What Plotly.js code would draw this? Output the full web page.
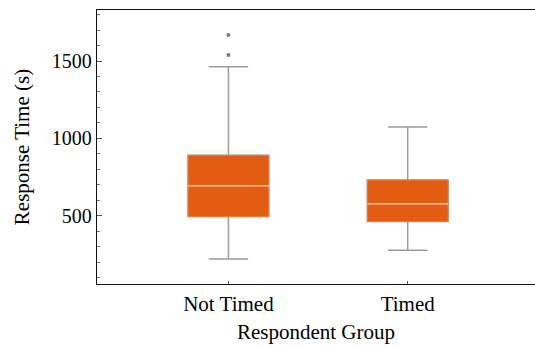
<!DOCTYPE html>
<html>
<head>
<meta charset="utf-8">
<script src="https://cdn.plot.ly/plotly-3.0.1.min.js"></script>
<style>html,body{margin:0;padding:0;background:#fff;}#chart{width:535px;height:347px;}</style>
</head>
<body>
<div id="chart"></div>
<script>
const groups = ["Not Timed", "Timed"];
const lowerWhisker = [220, 276];
const q1Values = [494, 463];
const medianValues = [693, 577];
const q3Values = [890, 730];
const upperWhisker = [1463, 1073];
const outlierGroups = ["Not Timed", "Not Timed"];
const outlierValues = [1539, 1668];

const orange = "#E45C11";
const font = "Liberation Serif, Times New Roman, serif";

const traces = [
  { // whiskers
    type: "box", x: groups, q1: q1Values, median: medianValues, q3: q3Values,
    lowerfence: lowerWhisker, upperfence: upperWhisker,
    width: 0.45, whiskerwidth: 0.49, boxpoints: false,
    fillcolor: orange, line: {color: "#9B9B9B", width: 1.5},
    hoverinfo: "skip", showlegend: false
  },
  { // box body
    type: "box", x: groups, q1: q1Values, median: medianValues, q3: q3Values,
    lowerfence: q1Values, upperfence: q3Values,
    width: 0.45, whiskerwidth: 0, boxpoints: false,
    fillcolor: orange, line: {color: "#EC7A3C", width: 1},
    hoverinfo: "skip", showlegend: false
  },
  { // median line
    type: "box", x: groups, q1: medianValues, median: medianValues, q3: medianValues,
    lowerfence: medianValues, upperfence: medianValues,
    width: 0.45, whiskerwidth: 0, boxpoints: false,
    fillcolor: "rgba(0,0,0,0)", line: {color: "#F6C6A2", width: 1.5},
    hoverinfo: "skip", showlegend: false
  },
  { // outliers
    type: "scatter", mode: "markers", x: outlierGroups, y: outlierValues,
    marker: {color: "#7A7A7A", size: 4}, hoverinfo: "skip", showlegend: false
  }
];

const layout = {
  width: 535, height: 347,
  margin: {l: 97, r: 0, t: 10, b: 63},
  paper_bgcolor: "#fff", plot_bgcolor: "#fff",
  boxmode: "overlay",
  font: {family: font, size: 21, color: "#000"},
  xaxis: {
    type: "category", range: [-0.733, 1.71],
    showgrid: false, zeroline: false,
    showline: true, linecolor: "#111", linewidth: 1.3, mirror: true,
    ticks: "inside", ticklen: 3, tickcolor: "#555", tickwidth: 1,
    tickfont: {family: font, size: 21, color: "#000"},
    title: {text: "Respondent Group", font: {family: font, size: 21, color: "#000"}, standoff: 9}
  },
  yaxis: {
    range: [58, 1830], tickvals: [500, 1000, 1500],
    showgrid: false, zeroline: false,
    showline: true, linecolor: "#111", linewidth: 1.3,
    ticks: "inside", ticklen: 5, tickcolor: "#555", tickwidth: 1,
    minor: {tickvals: [100,200,300,400,600,700,800,900,1100,1200,1300,1400,1600,1700,1800], ticks: "inside", ticklen: 3, tickcolor: "#777", tickwidth: 1},
    tickfont: {family: font, size: 20, color: "#000"},
    title: {text: "Response Time (s)", font: {family: font, size: 21, color: "#000"}, standoff: 16}
  }
};

Plotly.newPlot("chart", traces, layout, {displayModeBar: false, staticPlot: true});
</script>
</body>
</html>
